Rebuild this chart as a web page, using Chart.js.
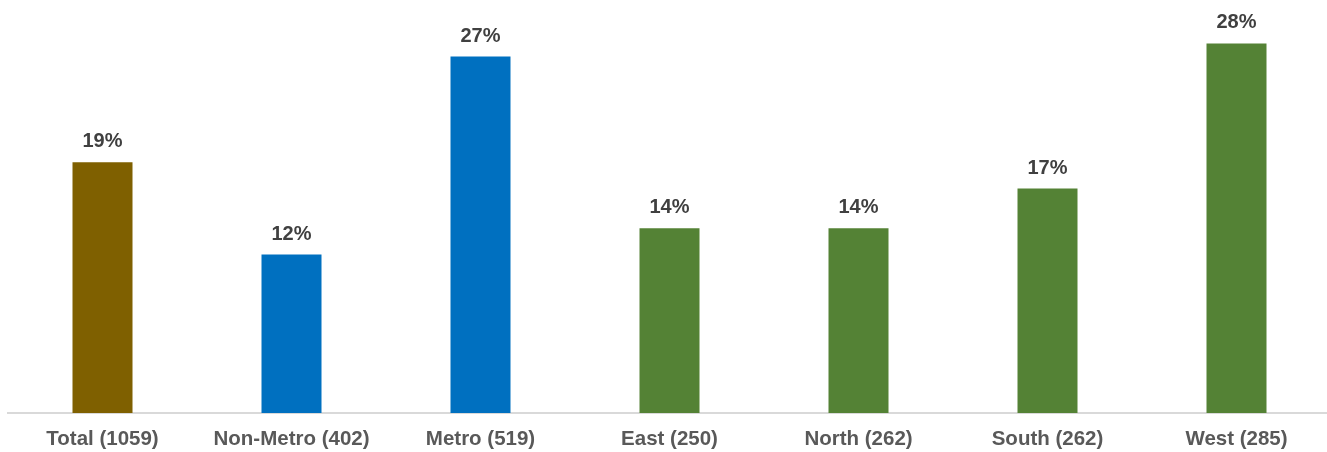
<!DOCTYPE html>
<html>
<head>
<meta charset="utf-8">
<script src="https://cdn.jsdelivr.net/npm/chart.js@4/dist/chart.umd.min.js"></script>
<style>
  body { margin: 0; overflow: hidden; background: #fff; }
</style>
</head>
<body>
<canvas id="barChart" width="1331" height="452"></canvas>
<script>
// categories and values (%)
var categories = ["Total (1059)", "Non-Metro (402)", "Metro (519)", "East (250)", "North (262)", "South (262)", "West (285)"];
var values = [19, 12, 27, 14, 14, 17, 28];
var barColors = ["#7F6000", "#0070C0", "#0070C0", "#548235", "#548235", "#548235", "#548235"];

// labels above the bars
var valueLabels = {
    id: "valueLabels",
    afterDatasetsDraw: function (chart) {
        var ctx = chart.ctx;
        var meta = chart.getDatasetMeta(0);
        ctx.save();
        ctx.font = "bold 20px 'Liberation Sans', Arial, sans-serif";
        ctx.fillStyle = "#404040";
        ctx.textAlign = "center";
        ctx.textBaseline = "alphabetic";
        meta.data.forEach(function (bar, i) {
            ctx.fillText(values[i] + "%", bar.x, bar.y - 15);
        });
        ctx.restore();
    }
};

new Chart(document.getElementById("barChart").getContext("2d"), {
    type: "bar",
    data: {
        labels: categories,
        datasets: [{
            data: values,
            backgroundColor: barColors,
            borderWidth: 0,
            categoryPercentage: 1,
            barPercentage: 0.3175
        }]
    },
    options: {
        responsive: false,
        animation: false,
        layout: { padding: { top: 17, left: 8, right: 0, bottom: 0 } },
        plugins: { legend: { display: false }, tooltip: { enabled: false } },
        scales: {
            y: { display: false, min: 0, max: 30 },
            x: {
                grid: { display: false, drawTicks: false },
                border: { display: true, color: "#D9D9D9", width: 2 },
                ticks: {
                    padding: 14,
                    color: "#595959",
                    font: { family: "'Liberation Sans', Arial, sans-serif", size: 20.5, weight: "bold" }
                },
                afterFit: function (scale) { scale.height = 39; }
            }
        }
    },
    plugins: [valueLabels]
});
</script>
</body>
</html>
